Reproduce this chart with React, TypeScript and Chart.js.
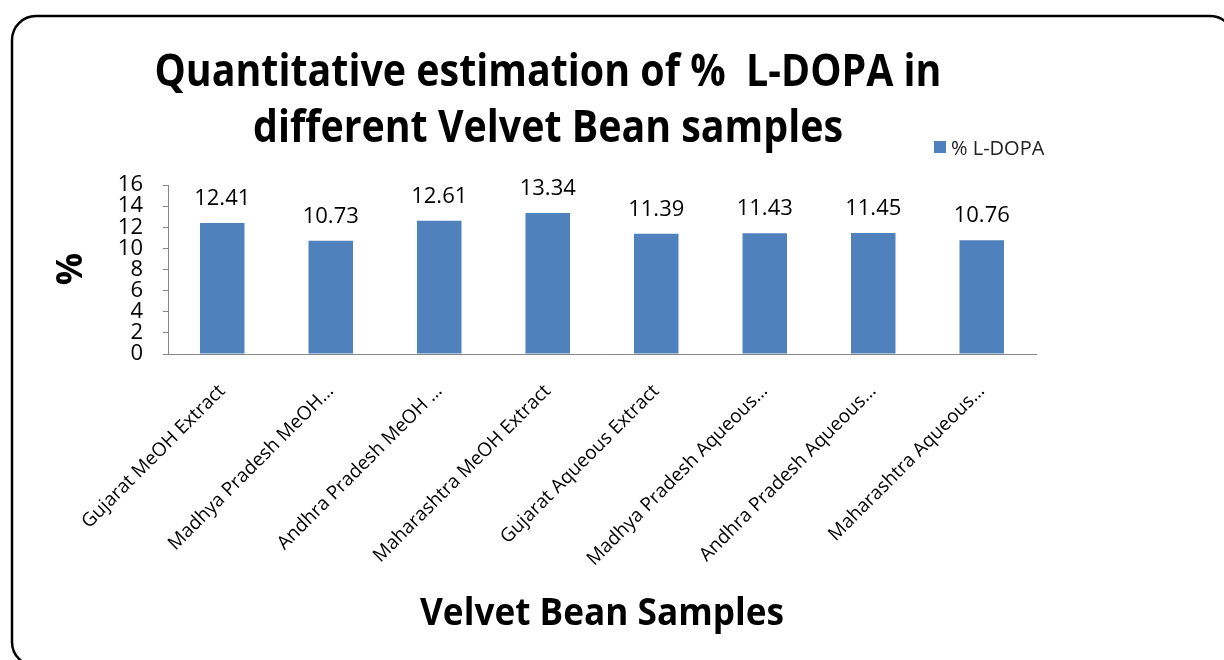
import React, { useEffect, useRef } from "react";
import { Chart, registerables } from "chart.js";

Chart.register(...registerables);

const categories = [
  "Gujarat MeOH Extract",
  "Madhya Pradesh MeOH…",
  "Andhra Pradesh MeOH …",
  "Maharashtra MeOH Extract",
  "Gujarat Aqueous Extract",
  "Madhya Pradesh Aqueous…",
  "Andhra Pradesh Aqueous…",
  "Maharashtra Aqueous…",
];
const lDopaValues = [12.41, 10.73, 12.61, 13.34, 11.39, 11.43, 11.45, 10.76];
const yMin = 0;
const yMax = 16;
const yStep = 2;
const seriesLabel = "% L-DOPA";
const titleLines = ["Quantitative estimation of %  L-DOPA in", "different Velvet Bean samples"];
const xAxisTitle = "Velvet Bean Samples";
const yAxisTitle = "%";

const BAR_COLOR = "#4F81BD";
const AXIS_COLOR = "#868686";

const decorPlugin = {
  id: "decor",
  beforeDraw(chart: any) {
    const ctx = chart.ctx;
    ctx.save();
    ctx.fillStyle = "#ffffff";
    ctx.fillRect(0, 0, chart.width, chart.height);
    ctx.lineWidth = 2.5;
    ctx.strokeStyle = "#000000";
    ctx.beginPath();
    ctx.roundRect(12, 16, 1222, 650, 24);
    ctx.stroke();
    ctx.restore();
  },
  afterDatasetsDraw(chart: any) {
    const ctx = chart.ctx;
    const meta = chart.getDatasetMeta(0);
    ctx.save();
    ctx.font = '22px "Open Sans"';
    ctx.fillStyle = "#000000";
    ctx.textAlign = "center";
    ctx.textBaseline = "alphabetic";
    meta.data.forEach((bar: any, i: number) => {
      ctx.fillText(lDopaValues[i].toFixed(2), bar.x, bar.y - 18);
    });
    ctx.restore();
  },
  afterDraw(chart: any) {
    const ctx = chart.ctx;
    const area = chart.chartArea;
    ctx.save();
    ctx.fillStyle = "#000000";
    // title
    ctx.font = 'bold 44px "Open Sans"';
    ctx.textAlign = "center";
    ctx.textBaseline = "alphabetic";
    ctx.fillText(titleLines[0], 548, 86, 787);
    ctx.fillText(titleLines[1], 548, 142, 590);
    // x axis title
    ctx.font = 'bold 38px "Open Sans"';
    ctx.fillText(xAxisTitle, (area.left + area.right) / 2, 625, 364);
    // y axis title
    ctx.save();
    ctx.translate(72, 269);
    ctx.rotate(-Math.PI / 2);
    ctx.font = 'bold 36px "Open Sans"';
    ctx.textBaseline = "middle";
    ctx.fillText(yAxisTitle, 0, 0);
    ctx.restore();
    // legend
    ctx.fillStyle = BAR_COLOR;
    ctx.fillRect(934, 141, 12, 12);
    ctx.fillStyle = "#222222";
    ctx.font = '20px "Open Sans"';
    ctx.textAlign = "left";
    ctx.fillText(seriesLabel, 951, 155);
    ctx.restore();
  },
};

export default function App() {
  const canvasRef = useRef<HTMLCanvasElement | null>(null);

  useEffect(() => {
    if (!canvasRef.current) return;
    const chart = new Chart(canvasRef.current, {
      type: "bar",
      data: {
        labels: categories,
        datasets: [
          {
            label: seriesLabel,
            data: lDopaValues,
            backgroundColor: BAR_COLOR,
            borderWidth: 0,
            categoryPercentage: 1,
            barPercentage: 0.41,
          },
        ],
      },
      options: {
        responsive: false,
        animation: false,
        layout: { padding: { left: 0, right: 188, top: 185, bottom: 46 } },
        plugins: {
          legend: { display: false },
          title: { display: false },
          tooltip: { enabled: false },
        },
        scales: {
          x: {
            grid: { display: false, drawTicks: false },
            border: { display: true, color: AXIS_COLOR, width: 1 },
            ticks: {
              autoSkip: false,
              maxRotation: 45,
              minRotation: 45,
              padding: 26,
              color: "#000000",
              font: { family: '"Open Sans"', size: 19 },
            },
            afterFit(scale: any) {
              scale.height = 260;
            },
          },
          y: {
            min: yMin,
            max: yMax,
            grid: {
              display: true,
              drawOnChartArea: false,
              drawTicks: true,
              tickLength: 5,
              color: AXIS_COLOR,
            },
            border: { display: true, color: AXIS_COLOR, width: 1 },
            ticks: {
              stepSize: yStep,
              autoSkip: false,
              padding: 20,
              color: "#000000",
              font: { family: '"Open Sans"', size: 22 },
            },
            afterFit(scale: any) {
              scale.width = 168;
            },
          },
        },
      },
      plugins: [decorPlugin],
    });
    return () => chart.destroy();
  }, []);

  return (
    <div style={{ position: "absolute", left: 0, top: 0, width: 1224, height: 660 }}>
      <canvas ref={canvasRef} width={1224} height={660} />
    </div>
  );
}
